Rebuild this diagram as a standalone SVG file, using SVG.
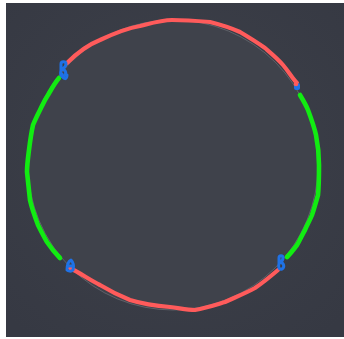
<svg xmlns="http://www.w3.org/2000/svg" width="344" height="339" viewBox="0 0 344 339">
<defs>
<radialGradient id="bg" cx="0.5" cy="0.45" r="0.7">
<stop offset="0" stop-color="#3e414a"/>
<stop offset="1" stop-color="#363943"/>
</radialGradient>
<style>
.red{fill:none;stroke:#ff5b5b;stroke-width:4.2;stroke-linecap:round;stroke-linejoin:round}
.green{fill:none;stroke:#12ec12;stroke-width:4.6;stroke-linecap:round;stroke-linejoin:round}
.blue{fill:none;stroke:#1f72e6;stroke-width:3;stroke-linecap:round;stroke-linejoin:round}
</style>
</defs>
<rect width="344" height="339" fill="#ffffff"/>
<rect x="6" y="3" width="338" height="334" fill="url(#bg)"/>
<circle cx="173" cy="165" r="145" fill="#3f424b" stroke="#8a8c90" stroke-opacity="0.45" stroke-width="1"/>
<g id="arcs">
<path class="red" d="M67,63 C78,52 90,44 100,40 C115,33 128,28 140,26 C152,23 162,20 172,20 C186,20 198,21 210,22 C222,25 231,28 240,32 C250,38 258,43 265,48 C272,54 278,59 283,65 C289,72 292,78 297,83"/>
<path class="green" d="M59,78 C54,84 51,90 48,95 C44,101 42,106 40,110 C37,116 35,120 33,125 C31,134 30,142 29,150 C28,158 27,165 27,172 C28,182 29,191 30,200 C32,209 35,217 38,225 C41,231 44,237 47,242 C51,248 55,253 60,258"/>
<path class="red" d="M70,268 C80,273 90,280 100,285 C110,291 120,296 130,300 C143,304 157,306 170,307 C179,308 187,310 195,310 C206,308 215,305 225,302 C236,297 246,293 255,288 C264,282 271,276 278,270"/>
<path class="green" d="M300,95 C303,100 306,105 308,110 C311,118 314,126 316,135 C318,145 319,155 319,165 C319,175 319,185 318,195 C316,202 314,209 312,215 C310,220 307,225 305,230 C302,235 300,240 297,245 C294,249 291,253 287,257"/>
</g>
<g id="markA1"><path class="blue" d="M61,64 C61,61 66,61 66,64 C66,67 62,69 62,69 C66,70 67,74 64,76 C61,78 60,74 61,70 Z"/><path class="blue" d="M62,74 C63,80 67,80 67,75"/></g>
<g id="markA2"><rect x="294" y="83" width="6" height="7" rx="2" fill="#1f72e6"/><circle cx="296" cy="84" r="2.3" fill="#ff5b5b"/></g>
<g id="markA3"><path class="blue" d="M67,270 C67,264 69,261 71,260 C73,262 74,266 73,270 C71,272 68,271 67,270 Z"/><path class="blue" d="M68,266 L73,266"/></g>
<g id="markA4"><path class="blue" d="M279,258 C279,255 283,255 283,258 C283,261 280,262 280,262 C284,263 285,267 282,269 C279,270 278,267 279,264 Z"/></g>
</svg>
